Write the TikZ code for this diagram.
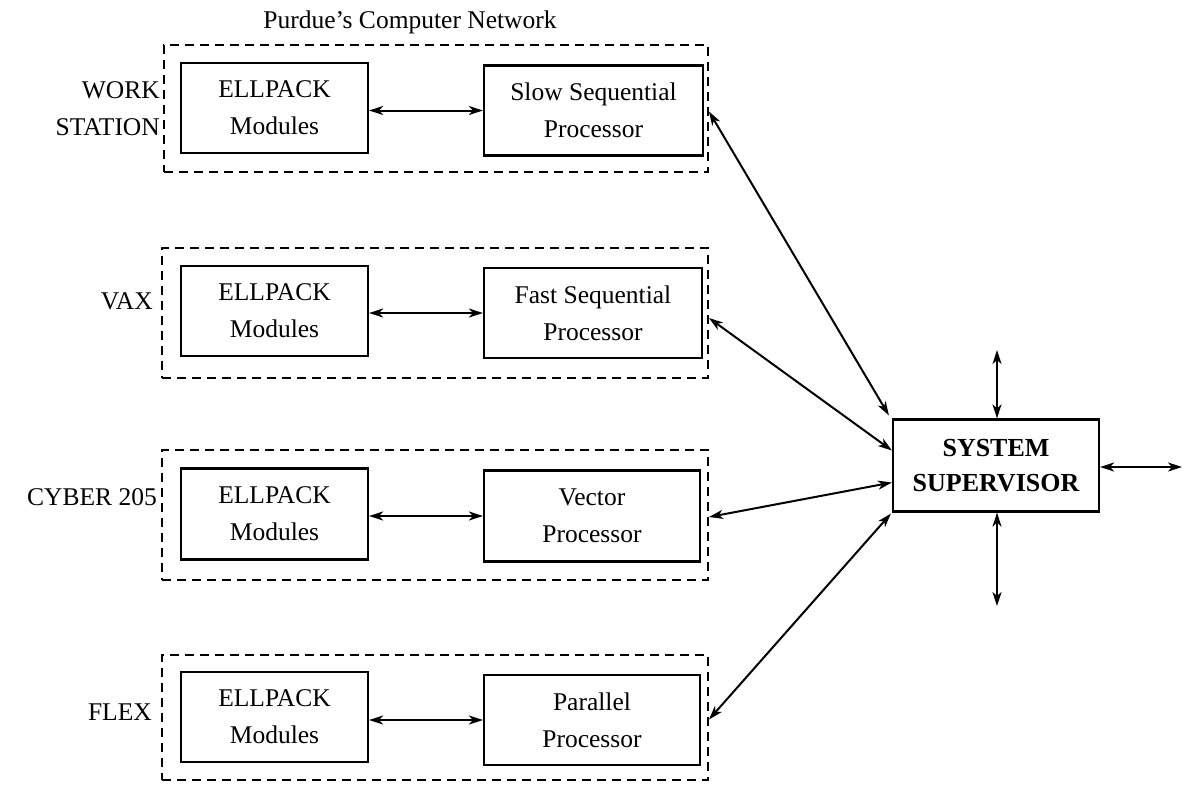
\documentclass[tikz,border=0pt]{standalone}
\usepackage{fontspec}
\setmainfont{Liberation Serif}
\usetikzlibrary{arrows.meta}
\begin{document}
\begin{tikzpicture}[x=1pt,y=-1pt,
  every node/.style={font=\fontsize{25.5}{37}\selectfont, inner sep=0pt, align=center},
  dbox/.style={draw, dashed, dash pattern=on 9pt off 6pt, line width=2pt},
  sbox/.style={draw, line width=2.2pt},
  conn/.style={line width=2pt, {Stealth[length=14pt,width=9pt,inset=4pt]}-{Stealth[length=14pt,width=9pt,inset=4pt]}},
  lab/.style={anchor=east, align=right}
]
\useasboundingbox (0,0) rectangle (1183,785);

\node (title) at (410,22) {Purdue's Computer Network};

% dashed group boxes
\node[dbox, minimum width=544pt, minimum height=127pt] (d1) at (436,108.5) {};
\node[dbox, minimum width=546pt, minimum height=130pt] (d2) at (435,313) {};
\node[dbox, minimum width=546pt, minimum height=130pt] (d3) at (435,515) {};
\node[dbox, minimum width=546pt, minimum height=125pt] (d4) at (435,717.5) {};

% labels
\node[lab] (l1) at (160,109) {WORK\\STATION};
\node[lab] (l2) at (153,301) {VAX};
\node[lab] (l3) at (157,497) {CYBER 205};
\node[lab] (l4) at (152,712) {FLEX};

% ELLPACK boxes
\node[sbox, minimum width=187pt, minimum height=90pt] (e1) at (274.5,108) {ELLPACK\\Modules};
\node[sbox, minimum width=187pt, minimum height=90pt] (e2) at (274.5,311) {ELLPACK\\Modules};
\node[sbox, minimum width=187pt, minimum height=91pt] (e3) at (274.5,514) {ELLPACK\\Modules};
\node[sbox, minimum width=187pt, minimum height=90pt] (e4) at (274.5,717) {ELLPACK\\Modules};

% processor boxes
\node[sbox, minimum width=219pt, minimum height=90pt] (p1) at (593.5,110.5) {Slow Sequential\\Processor};
\node[sbox, minimum width=218pt, minimum height=90pt] (p2) at (593,313) {Fast Sequential\\Processor};
\node[sbox, minimum width=216pt, minimum height=91pt] (p3) at (592,516) {Vector\\Processor};
\node[sbox, minimum width=216pt, minimum height=90pt] (p4) at (592,720) {Parallel\\Processor};

% supervisor
\node[sbox, minimum width=206pt, minimum height=92pt, font=\fontsize{26}{35}\selectfont\bfseries] (sup) at (996,465.5) {SYSTEM\\SUPERVISOR};

\coordinate (ctop) at (997,350);
\coordinate (cbot) at (997,606);
\coordinate (cright) at (1182,467);

% inner connectors
\draw[conn] (e1.east |- p1.west) -- (p1.west);
\draw[conn] (e2.east |- p2.west) -- (p2.west);
\draw[conn] (e3.east |- p3.west) -- (p3.west);
\draw[conn] (e4.east |- p4.west) -- (p4.west);

% group to supervisor
\draw[conn] ([yshift=-3pt]d1.east) -- ([xshift=-3pt,yshift=3pt]sup.north west);
\draw[conn] ([yshift=-5pt]d2.east) -- ([yshift=15pt]sup.west);
\draw[conn] ([yshift=-2pt]d3.east) -- ([yshift=-17pt]sup.west);
\draw[conn] ([yshift=-2pt]d4.east) -- ([xshift=-1pt,yshift=-1pt]sup.south west);

% supervisor free ends
\draw[conn] (ctop) -- (sup.north -| ctop);
\draw[conn] (sup.south -| cbot) -- (cbot);
\draw[conn] (sup.east |- cright) -- (cright);
\end{tikzpicture}
\end{document}
